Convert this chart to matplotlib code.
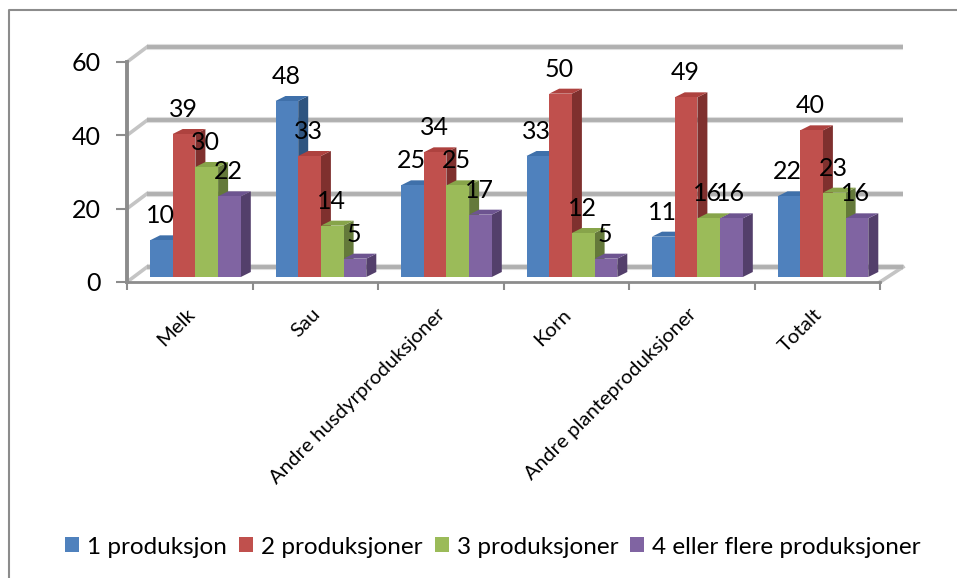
import matplotlib
matplotlib.use("Agg")
import matplotlib.pyplot as plt
from matplotlib.patches import Polygon, Rectangle
from matplotlib.lines import Line2D

categories = ["Melk", "Sau", "Andre husdyrproduksjoner", "Korn", "Andre planteproduksjoner", "Totalt"]
series_names = ["1 produksjon", "2 produksjoner", "3 produksjoner", "4 eller flere produksjoner"]
s1 = [10, 48, 25, 33, 11, 22]
s2 = [39, 33, 34, 50, 49, 40]
s3 = [30, 14, 25, 12, 16, 23]
s4 = [22, 5, 17, 5, 16, 16]
series = [s1, s2, s3, s4]
front = ["#4F81BD", "#C0504D", "#9BBB59", "#8064A2"]
top = ["#3F70AA", "#AE423F", "#87A44A", "#6D5490"]
side = ["#2F5580", "#7F302E", "#64793A", "#533F6B"]
yticks = [0, 20, 40, 60]

plt.rcParams["font.family"] = ["Lato", "DejaVu Sans"]
W, H = 957, 578
fig = plt.figure(figsize=(W / 100, H / 100), dpi=100)
fig.patch.set_facecolor("white")

# axes frame: x 0..6 = px 127..880, y 0..60 = px 282..62
ax = fig.add_axes([127 / W, 1 - 282 / H, 753 / W, 220 / H])
ax.set_xlim(0, 6)
ax.set_ylim(0, 60)
ax.patch.set_alpha(0)
for k in ("top", "right"):
    ax.spines[k].set_visible(False)
ax.spines["left"].set_color("#8c8c8c")
ax.spines["left"].set_linewidth(2.8)
ax.spines["bottom"].set_color("#8c8c8c")
ax.spines["bottom"].set_linewidth(2.0)
px = 6 / 753      # data per px, x
py = 60 / 220     # data per px, y
ax.set_yticks(yticks)
ax.tick_params(axis="y", labelsize=18, length=8, width=1.5, color="#8c8c8c", pad=11)
ax.set_xticks(range(7))
ax.set_xticklabels([])
ax.tick_params(axis="x", length=6, width=1.5, color="#8c8c8c")

# back wall gridlines and floor
wdx, wdy = 20 * px, 15 * py
wend = 6 + 23 * px
for t in yticks:
    ax.add_line(Line2D([wdx, wend], [t + wdy, t + wdy], color="#dedede", lw=4.4, clip_on=False, zorder=1,
                       solid_capstyle="butt"))
    ax.add_line(Line2D([wdx, wend], [t + wdy, t + wdy], color="#b0b0b0", lw=2.8, clip_on=False, zorder=1.1,
                       solid_capstyle="butt"))
    ax.add_line(Line2D([0, wdx], [t, t + wdy], color="#c4c4c4", lw=2.6, clip_on=False, zorder=1))
ax.add_line(Line2D([6, wend], [0, wdy], color="#c4c4c4", lw=2.6, clip_on=False, zorder=1))

# 3-D style bars
bw = 22.7 * px
base = 5 * py
ddx, ddy = 10 * px, 5 * py
group_left = 23 * px
for c in range(len(categories)):
    for i, vals in enumerate(series):
        v = vals[c]
        x0 = c + group_left + i * bw
        x1 = x0 + bw
        yb, yt = base, base + v
        z = 3 + c * 10 + i
        ax.add_patch(Polygon([(x1, yb), (x1 + ddx, yb + ddy), (x1 + ddx, yt + ddy), (x1, yt)],
                             fc=side[i], ec="none", zorder=z, clip_on=False))
        ax.add_patch(Polygon([(x0, yt), (x0 + ddx, yt + ddy), (x1 + ddx, yt + ddy), (x1, yt)],
                             fc=top[i], ec="none", zorder=z, clip_on=False))
        ax.bar(x0, v, width=bw, bottom=yb, align="edge", color=front[i], zorder=z + 0.5, clip_on=False)
        ax.text(x0 + bw / 2 - 1 * px, yt + 24.5 * py, str(v), ha="center", va="center",
                fontsize=18, color="black", zorder=200, clip_on=False)

# category labels
for c, name in enumerate(categories):
    ax.annotate(name, xy=(c + 0.5, 0), xytext=(-3, -17), textcoords="offset points",
                ha="right", va="top", rotation=45, rotation_mode="anchor", fontsize=14.7, color="black",
                annotation_clip=False)

# outer frame
fig.add_artist(Line2D([9 / W, 9 / W, 1], [0, 1 - 10 / H, 1 - 10 / H], color="#8c8c8c", lw=1.5))

# legend
handles = [Rectangle((0, 0), 1, 1, fc=f) for f in front]
fig.legend(handles, series_names, loc="center", bbox_to_anchor=(493 / W, 1 - 547 / H), ncol=4, frameon=False,
           fontsize=17.5, handlelength=0.58, handleheight=0.58, handletextpad=0.33, columnspacing=0.49)
fig.savefig("out.png", dpi=100)
